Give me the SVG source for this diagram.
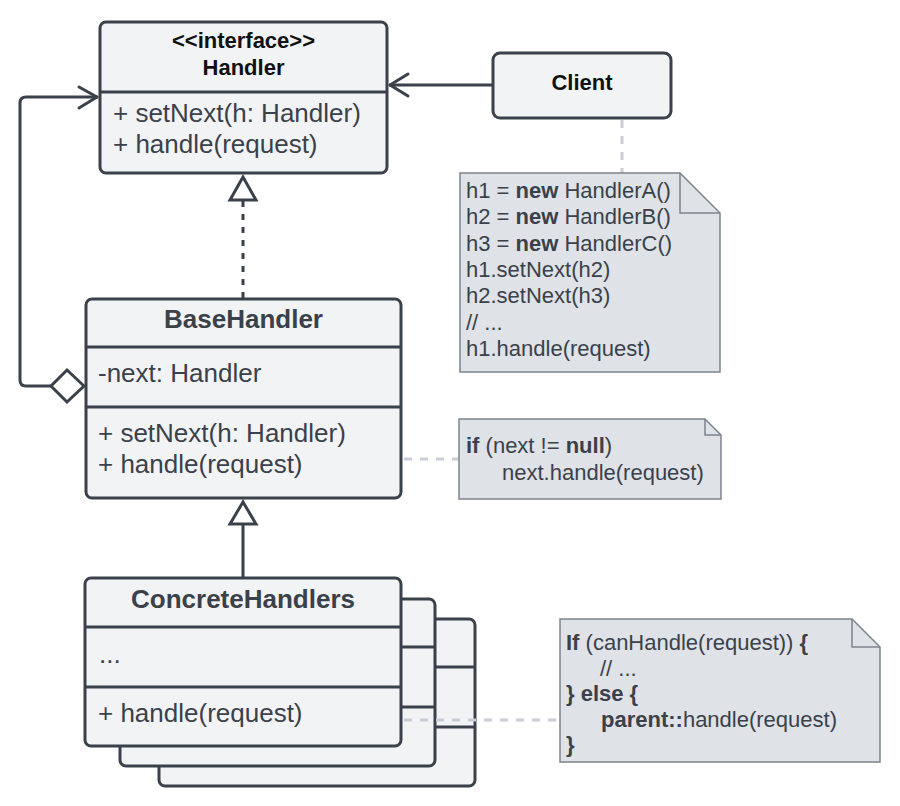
<svg xmlns="http://www.w3.org/2000/svg" width="900" height="806" viewBox="0 0 900 806">
<style>
.box{fill:#f2f3f5;stroke:#3a414a;stroke-width:3}
.dv{stroke:#3a414a;stroke-width:3;fill:none}
.note{fill:#dfe2e7;stroke:#7d848c;stroke-width:1.5}
.fold{fill:none;stroke:#7d848c;stroke-width:1.5}
.t{font-family:"Liberation Sans",Arial,sans-serif;fill:#3a414a}
.m{font-size:26px}
.ttl{font-size:26px;font-weight:bold;text-anchor:middle}
.blk{font-size:22px;font-weight:bold;fill:#111111;text-anchor:middle}
.n{font-size:22px}
.b{font-weight:bold}
.ln{stroke:#3a414a;stroke-width:3;fill:none;stroke-linejoin:round;stroke-linecap:round}
.dsh{stroke:#3a414a;stroke-width:3;fill:none;stroke-dasharray:6 7}
.lt{stroke:#c9ced6;stroke-width:3;fill:none;stroke-dasharray:8 8}
.tri{fill:#ffffff;stroke:#3a414a;stroke-width:3;stroke-linejoin:miter}
</style>

<g id="connectors">
  <!-- Client -> Handler -->
  <line class="ln" x1="493" y1="85" x2="390" y2="85"/>
  <polyline class="ln" points="408,74 390,85 408,96"/>
  <!-- Client note link -->
  <line class="lt" x1="622" y1="120" x2="622" y2="173"/>
  <!-- realization BaseHandler -> Handler -->
  <line class="dsh" x1="243" y1="298" x2="243" y2="201"/>
  <polygon class="tri" points="243,177 230,200 256,200"/>
  <!-- aggregation next -> Handler -->
  <path class="ln" d="M51,386 H26 Q20,386 20,380 V103 Q20,97 26,97 H97"/>
  <polyline class="ln" points="79,87 97,97 79,108"/>
  <polygon class="tri" points="84,386 67,370 51,386 67,402"/>
  <!-- inheritance ConcreteHandlers -> BaseHandler -->
  <line class="ln" x1="243" y1="577" x2="243" y2="525"/>
  <polygon class="tri" points="243,502 230,524 256,524"/>
  <!-- note links -->
  <line class="lt" x1="404" y1="459" x2="459" y2="459"/>
</g>

<g id="handler">
  <rect class="box" x="100" y="22" width="287" height="151" rx="6"/>
  <line class="dv" x1="100" y1="92" x2="387" y2="92"/>
  <text class="t blk" x="243.5" y="48">&lt;&lt;interface&gt;&gt;</text>
  <text class="t blk" x="243.5" y="75">Handler</text>
  <text class="t m" x="113" y="122">+ setNext(h: Handler)</text>
  <text class="t m" x="113" y="153">+ handle(request)</text>
</g>

<g id="client">
  <rect class="box" x="493" y="53" width="178" height="65" rx="7"/>
  <text class="t blk" x="582" y="90">Client</text>
</g>

<g id="note-client">
  <path class="note" d="M460,173 H680 L720,213 V372 H460 Z"/>
  <polyline class="fold" points="680,173 680,213 720,213"/>
  <text class="t n" x="466" y="198">h1 = <tspan class="b">new</tspan> HandlerA()</text>
  <text class="t n" x="466" y="224">h2 = <tspan class="b">new</tspan> HandlerB()</text>
  <text class="t n" x="466" y="251">h3 = <tspan class="b">new</tspan> HandlerC()</text>
  <text class="t n" x="466" y="277">h1.setNext(h2)</text>
  <text class="t n" x="466" y="303">h2.setNext(h3)</text>
  <text class="t n" x="466" y="330">// ...</text>
  <text class="t n" x="466" y="356">h1.handle(request)</text>
</g>

<g id="basehandler">
  <rect class="box" x="86" y="299" width="315" height="199" rx="6"/>
  <line class="dv" x1="86" y1="347" x2="401" y2="347"/>
  <line class="dv" x1="86" y1="407" x2="401" y2="407"/>
  <text class="t ttl" x="243.5" y="328">BaseHandler</text>
  <text class="t m" x="98" y="382">-next: Handler</text>
  <text class="t m" x="98" y="442">+ setNext(h: Handler)</text>
  <text class="t m" x="98" y="473">+ handle(request)</text>
</g>

<g id="note-base">
  <path class="note" d="M459,419 H705 L721,435 V499 H459 Z"/>
  <polyline class="fold" points="705,419 705,435 721,435"/>
  <text class="t n" x="466" y="453"><tspan class="b">if</tspan> (next != <tspan class="b">null</tspan>)</text>
  <text class="t n" x="502" y="480">next.handle(request)</text>
</g>

<g id="concretehandlers">
  <rect class="box" x="159" y="619" width="316" height="167" rx="6"/>
  <line class="dv" x1="159" y1="667" x2="475" y2="667"/>
  <line class="dv" x1="159" y1="727" x2="475" y2="727"/>
  <rect class="box" x="120" y="599" width="315" height="167" rx="6"/>
  <line class="dv" x1="120" y1="647" x2="435" y2="647"/>
  <line class="dv" x1="120" y1="707" x2="435" y2="707"/>
  <rect class="box" x="85" y="578" width="316" height="168" rx="6"/>
  <line class="dv" x1="85" y1="627" x2="401" y2="627"/>
  <line class="dv" x1="85" y1="687" x2="401" y2="687"/>
  <text class="t ttl" x="243" y="608">ConcreteHandlers</text>
  <text class="t m" x="99" y="663">...</text>
  <text class="t m" x="98" y="722">+ handle(request)</text>
</g>

<g id="connectors-top">
  <line class="lt" x1="404" y1="720" x2="560" y2="720"/>
</g>

<g id="note-concrete">
  <path class="note" d="M560,619 H852 L880,647 V762 H560 Z"/>
  <polyline class="fold" points="852,619 852,647 880,647"/>
  <text class="t n" x="566" y="650"><tspan class="b">If</tspan> (canHandle(request)) <tspan class="b">{</tspan></text>
  <text class="t n" x="600" y="676">// ...</text>
  <text class="t n b" x="566" y="701">} else {</text>
  <text class="t n" x="601" y="727"><tspan class="b">parent::</tspan>handle(request)</text>
  <text class="t n b" x="566" y="752">}</text>
</g>
</svg>
